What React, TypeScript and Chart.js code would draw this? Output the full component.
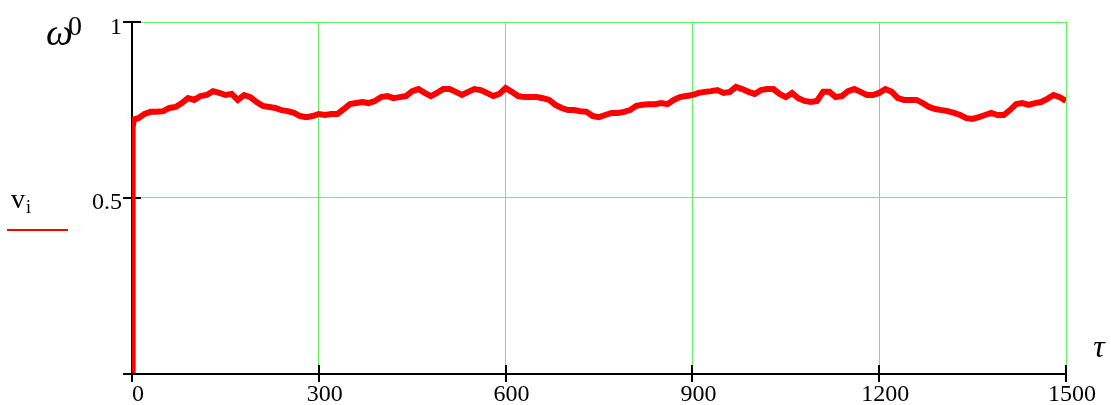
import React, { useEffect, useRef } from "react";
import { Chart, registerables } from "chart.js";

Chart.register(...registerables);

// time points τ
const tau: number[] = [
  0, 1, 3,
  10, 20, 30, 40, 50, 60, 70, 80, 90, 100,
  110, 120, 130, 140, 150, 160, 170, 180, 190, 200,
  210, 220, 230, 240, 250, 260, 270, 280, 290, 300,
  310, 320, 330, 340, 350, 360, 370, 380, 390, 400,
  410, 420, 430, 440, 450, 460, 470, 480, 490, 500,
  510, 520, 530, 540, 550, 560, 570, 580, 590, 600,
  610, 620, 630, 640, 650, 660, 670, 680, 690, 700,
  710, 720, 730, 740, 750, 760, 770, 780, 790, 800,
  810, 820, 830, 840, 850, 860, 870, 880, 890, 900,
  910, 920, 930, 940, 950, 960, 970, 980, 990, 1000,
  1010, 1020, 1030, 1040, 1050, 1060, 1070, 1080, 1090, 1100,
  1110, 1120, 1130, 1140, 1150, 1160, 1170, 1180, 1190, 1200,
  1210, 1220, 1230, 1240, 1250, 1260, 1270, 1280, 1290, 1300,
  1310, 1320, 1330, 1340, 1350, 1360, 1370, 1380, 1390, 1400,
  1410, 1420, 1430, 1440, 1450, 1460, 1470, 1480, 1490, 1500,
];

// series v_i
const omega: number[] = [
  0, 0.70, 0.722,
  0.726, 0.738, 0.744, 0.744, 0.746, 0.755, 0.758, 0.769, 0.783, 0.778,
  0.789, 0.792, 0.803, 0.798, 0.792, 0.795, 0.778, 0.792, 0.786, 0.772,
  0.761, 0.758, 0.755, 0.749, 0.746, 0.741, 0.732, 0.729, 0.732, 0.738,
  0.735, 0.738, 0.738, 0.752, 0.766, 0.769, 0.772, 0.769, 0.775, 0.786,
  0.789, 0.783, 0.786, 0.789, 0.803, 0.809, 0.798, 0.789, 0.798, 0.809,
  0.809, 0.801, 0.792, 0.801, 0.809, 0.806, 0.798, 0.789, 0.795, 0.812,
  0.801, 0.789, 0.786, 0.786, 0.786, 0.783, 0.778, 0.764, 0.755, 0.749,
  0.749, 0.746, 0.744, 0.732, 0.729, 0.735, 0.741, 0.741, 0.744, 0.749,
  0.761, 0.764, 0.766, 0.766, 0.769, 0.766, 0.778, 0.786, 0.789, 0.792,
  0.798, 0.801, 0.803, 0.806, 0.798, 0.801, 0.815, 0.809, 0.801, 0.795,
  0.806, 0.809, 0.809, 0.795, 0.786, 0.798, 0.783, 0.775, 0.772, 0.775,
  0.801, 0.801, 0.786, 0.789, 0.803, 0.809, 0.801, 0.792, 0.792, 0.798,
  0.809, 0.801, 0.783, 0.778, 0.778, 0.778, 0.769, 0.758, 0.752, 0.749,
  0.746, 0.741, 0.735, 0.726, 0.724, 0.729, 0.735, 0.741, 0.735, 0.735,
  0.749, 0.766, 0.769, 0.764, 0.769, 0.772, 0.781, 0.792, 0.786, 0.775,
];

const xTicks: number[] = [0, 300, 600, 900, 1200, 1500];
const xTickLabels: string[] = ["0", "300", "600", "900", "1200", "1500"];
const yTicks: number[] = [0.5, 1];
const yTickLabels: string[] = ["0.5", "1"];

const yAxisTitle = "ω";
const yAxisTitleSup = "0";
const xAxisTitle = "τ";
const legendName = "v";
const legendSub = "i";

const RED = "#ff0000";
const GRID = "rgb(100,240,100)";
const SERIF = '"Liberation Serif", "Times New Roman", serif';

const decorPlugin = {
  id: "mathcadDecor",
  beforeDatasetsDraw(chart: any) {
    const { ctx, chartArea, scales } = chart;
    const xs = scales.x;
    const ys = scales.y;
    const left = chartArea.left;
    const bottom = chartArea.bottom + 1;
    ctx.save();
    ctx.strokeStyle = "#000";
    ctx.lineWidth = 2;
    // axes
    ctx.beginPath();
    ctx.moveTo(left, chartArea.top - 1);
    ctx.lineTo(left, bottom);
    ctx.moveTo(left - 9, bottom);
    ctx.lineTo(chartArea.right + 1, bottom);
    ctx.stroke();
    // y ticks
    yTicks.forEach((v) => {
      const y = Math.round(ys.getPixelForValue(v));
      ctx.beginPath();
      ctx.moveTo(left - 9, y);
      ctx.lineTo(left + 9, y);
      ctx.stroke();
    });
    // x ticks
    xTicks.forEach((v) => {
      const x = Math.round(xs.getPixelForValue(v));
      ctx.beginPath();
      ctx.moveTo(x, bottom - 9);
      ctx.lineTo(x, bottom + 8);
      ctx.stroke();
    });
    ctx.restore();
  },
  afterDraw(chart: any) {
    const { ctx, scales } = chart;
    const xs = scales.x;
    const ys = scales.y;
    ctx.save();
    ctx.fillStyle = "#000";
    ctx.font = `24px ${SERIF}`;
    ctx.textBaseline = "alphabetic";
    // y tick labels
    ctx.textAlign = "right";
    yTicks.forEach((v, i) => {
      ctx.fillText(yTickLabels[i], chart.chartArea.left - 10, ys.getPixelForValue(v) + 11.5);
    });
    // x tick labels
    ctx.textAlign = "center";
    xTicks.forEach((v, i) => {
      ctx.fillText(xTickLabels[i], xs.getPixelForValue(v) + 6, 401);
    });
    // y axis title ω^0
    ctx.textAlign = "left";
    ctx.font = `italic 38px ${SERIF}`;
    ctx.fillText(yAxisTitle, 46, 45);
    ctx.font = `28px ${SERIF}`;
    ctx.fillText(yAxisTitleSup, 68, 35);
    // x axis title τ
    ctx.font = `italic 32px ${SERIF}`;
    ctx.textAlign = "center";
    ctx.fillText(xAxisTitle, 1099, 357);
    // legend
    ctx.textAlign = "left";
    ctx.font = `28px ${SERIF}`;
    ctx.fillText(legendName, 11, 208);
    ctx.font = `18px ${SERIF}`;
    ctx.fillText(legendSub, 26, 213);
    ctx.strokeStyle = RED;
    ctx.lineWidth = 2;
    ctx.beginPath();
    ctx.moveTo(7, 230);
    ctx.lineTo(68, 230);
    ctx.stroke();
    ctx.restore();
  },
};

export default function App() {
  const canvasRef = useRef<HTMLCanvasElement | null>(null);

  useEffect(() => {
    if (!canvasRef.current) return;
    const chart = new Chart(canvasRef.current, {
      type: "line",
      data: {
        datasets: [
          {
            label: "v_i",
            data: tau.map((t, i) => ({ x: t, y: omega[i] })),
            borderColor: RED,
            backgroundColor: RED,
            borderWidth: 6,
            borderJoinStyle: "miter",
            pointRadius: 0,
            tension: 0,
            fill: false,
          },
        ],
      },
      options: {
        animation: false,
        responsive: false,
        devicePixelRatio: 1,
        layout: { padding: { left: 132, right: 45, top: 22, bottom: 32 } },
        plugins: {
          legend: { display: false },
          tooltip: { enabled: false },
        },
        scales: {
          x: {
            type: "linear",
            min: 0,
            max: 1500,
            afterBuildTicks: (s: any) => {
              s.ticks = xTicks.map((v) => ({ value: v }));
            },
            ticks: { display: false },
            border: { display: false },
            grid: { color: GRID, lineWidth: 1, drawTicks: false },
          },
          y: {
            type: "linear",
            min: 0,
            max: 1,
            afterBuildTicks: (s: any) => {
              s.ticks = yTicks.map((v) => ({ value: v }));
            },
            ticks: { display: false },
            border: { display: false },
            grid: { color: GRID, lineWidth: 1, drawTicks: false },
          },
        },
      },
      plugins: [decorPlugin],
    });
    return () => chart.destroy();
  }, []);

  return (
    <div style={{ position: "absolute", left: 0, top: 0, width: 1111, height: 405, background: "#fff" }}>
      <canvas ref={canvasRef} width={1111} height={405} />
    </div>
  );
}
